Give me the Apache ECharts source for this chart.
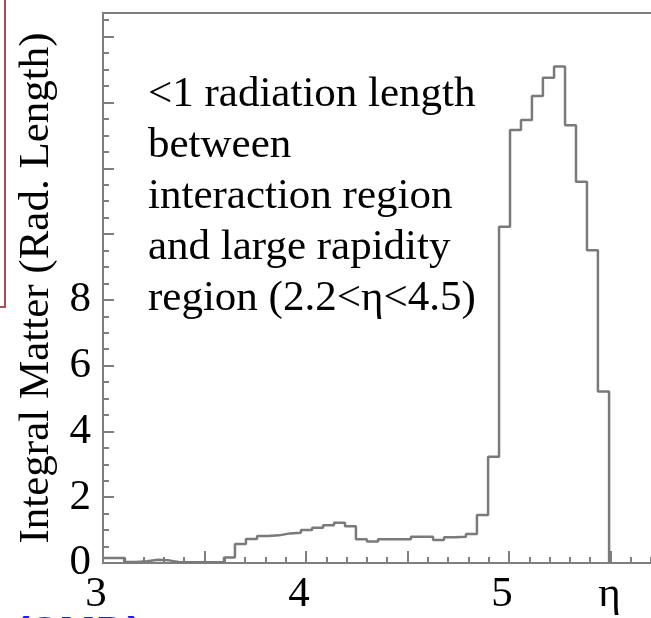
<!DOCTYPE html>
<html><head><meta charset="utf-8">
<script src="https://cdn.jsdelivr.net/npm/echarts@6/dist/echarts.min.js"></script>
<style>html,body{margin:0;padding:0;background:#fff;overflow:hidden}#c{width:651px;height:618px}</style>
</head><body><div id="c"></div>
<script>
// histogram bin edges (eta)
const binEdges = [3.000,3.054,3.108,3.163,3.217,3.271,3.325,3.379,3.433,3.488,
  3.542,3.596,3.650,3.704,3.759,3.813,3.867,3.921,3.975,4.030,
  4.084,4.138,4.192,4.246,4.300,4.355,4.409,4.463,4.517,4.571,
  4.626,4.680,4.734,4.788,4.842,4.897,4.951,5.005,5.059,5.113,
  5.167,5.222,5.276,5.330,5.384,5.438,5.493];
// integral matter per bin (radiation lengths)
const matter = [0.15,0.15,0.03,0.05,0.10,0.08,0.02,0.02,0.02,0.02,
  0.02,0.17,0.58,0.73,0.82,0.84,0.90,0.92,1.00,1.07,
  1.15,1.22,1.12,0.72,0.65,0.72,0.72,0.72,0.80,0.80,
  0.70,0.78,0.80,0.88,1.46,3.23,10.22,13.16,13.47,14.20,
  14.75,15.09,13.31,11.59,9.51,5.21];
const xTickValues = [3, 4, 5];
const xTickLabels = ['3', '4', '5'];
const xAxisTitle = 'η';
const xTitleValue = 5.5;
const yTickLabelMax = 8;
const yAxisTitle = 'Integral Matter (Rad. Length)';
const noteLines = ['<1 radiation length', 'between', 'interaction region', 'and large rapidity', 'region (2.2<η<4.5)'];
const slideText = '(SMD)';

const serif = '"Liberation Serif", "Times New Roman", serif';
const axisGray = '#7f7f7f';

const seriesData = binEdges.map((e, i) => [e, i < matter.length ? matter[i] : 0]);

const chart = echarts.init(document.getElementById('c'), null, {renderer: 'canvas'});
chart.setOption({
  animation: false,
  backgroundColor: '#fff',
  grid: {left: 103, top: 13, width: 609, height: 550, outerBoundsMode: 'none', containLabel: false,
         show: true, borderColor: axisGray, borderWidth: 2, backgroundColor: 'transparent'},
  xAxis: {
    type: 'value', min: 3, max: 6, interval: 0.5,
    axisLine: {show: true, onZero: false, lineStyle: {color: axisGray, width: 2}},
    axisTick: {show: true, inside: true, length: 12, lineStyle: {color: axisGray, width: 2}},
    minorTick: {show: true, splitNumber: 5, length: 6, lineStyle: {color: axisGray, width: 2}},
    splitLine: {show: false},
    axisLabel: {
      show: true, margin: 10, color: '#000', fontFamily: serif, fontSize: 43,
      showMaxLabel: false,
      formatter: v => {
        const k = xTickValues.findIndex(t => Math.abs(t - v) < 1e-6);
        if (k >= 0) return '{n|' + xTickLabels[k] + '}';
        if (Math.abs(v - xTitleValue) < 1e-6) return '{t|' + xAxisTitle + '}';
        return '';
      },
      rich: {
        n: {fontFamily: serif, fontSize: 43, color: '#000', padding: [0, 14, 0, 0]},
        t: {fontFamily: serif, fontSize: 43, color: '#000', padding: [0, 2, 0, 0]}
      }
    }
  },
  yAxis: {
    type: 'value', min: 0, max: 16.72, interval: 2,
    name: yAxisTitle, nameLocation: 'middle', nameGap: 42,
    nameTextStyle: {color: '#000', fontFamily: serif, fontSize: 43},
    axisLine: {show: true, lineStyle: {color: axisGray, width: 2}},
    axisTick: {show: true, inside: true, length: 11, lineStyle: {color: axisGray, width: 2}},
    minorTick: {show: true, splitNumber: 4, length: 6, lineStyle: {color: axisGray, width: 2}},
    splitLine: {show: false},
    axisLabel: {
      show: true, margin: 12, color: '#000', fontFamily: serif, fontSize: 43,
      padding: [6, 0, 0, 0],
      formatter: v => (v <= yTickLabelMax + 1e-6 ? String(v) : '')
    }
  },
  series: [{
    type: 'line', step: 'end', data: seriesData, showSymbol: false, symbol: 'none',
    lineStyle: {color: '#7a7a7a', width: 2.5}, silent: true, clip: false
  }],
  graphic: [
    {type: 'text', left: 148, top: 69, silent: true,
     style: {text: noteLines.join('\n'), font: '43px ' + serif, fill: '#000', lineHeight: 51}},
    {type: 'polyline', silent: true,
     shape: {points: [[5, 0], [5, 307], [0, 307]]},
     style: {stroke: '#b5485a', lineWidth: 2, fill: null}},
    {type: 'text', x: 15, y: 614, silent: true,
     style: {text: slideText, font: 'bold 44px "Liberation Sans", Arial, sans-serif', fill: '#1a1aff',
             verticalAlign: 'top', align: 'left'}}
  ]
});
</script>
</body></html>
